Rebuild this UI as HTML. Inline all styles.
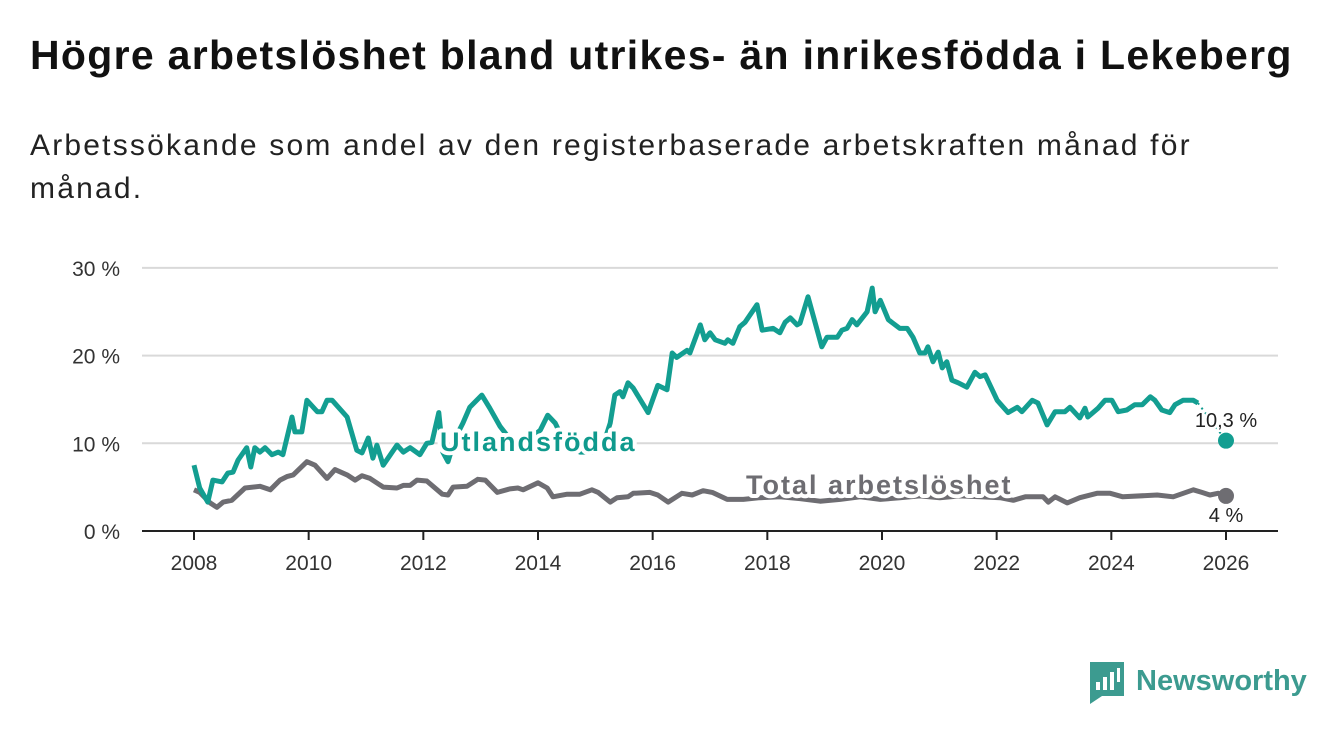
<!DOCTYPE html>
<html><head><meta charset="utf-8">
<style>
html,body{margin:0;padding:0;background:#fff;width:1340px;height:734px;overflow:hidden;font-family:"Liberation Sans",sans-serif;}
#title{position:absolute;left:30px;top:32px;font-size:41px;font-weight:bold;color:#111;white-space:nowrap;letter-spacing:1.3px}
#sub{position:absolute;left:30px;top:124px;font-size:30px;color:#222;line-height:43px;width:1220px;letter-spacing:2.2px}
svg{position:absolute;left:0;top:0}
</style></head><body>
<div id="title">Högre arbetslöshet bland utrikes- än inrikesfödda i Lekeberg</div>
<div id="sub">Arbetssökande som andel av den registerbaserade arbetskraften månad för månad.</div>
<svg id="chart" width="1340" height="734"></svg>
<script>
const yTicks=[0,10,20,30];
const xTicks=[2008,2010,2012,2014,2016,2018,2020,2022,2024,2026];
const foreignDates=[2008.0,2008.10,2008.24,2008.33,2008.49,2008.59,2008.68,2008.77,2008.92,2008.99,2009.06,2009.15,2009.24,2009.36,2009.47,2009.55,2009.71,2009.76,2009.88,2009.97,2010.15,2010.23,2010.32,2010.41,2010.67,2010.84,2010.93,2011.04,2011.12,2011.19,2011.30,2011.54,2011.65,2011.77,2011.94,2012.06,2012.15,2012.27,2012.34,2012.43,2012.55,2012.69,2012.81,2013.02,2013.16,2013.34,2013.51,2013.69,2013.86,2014.04,2014.17,2014.30,2014.47,2014.73,2014.99,2015.17,2015.26,2015.34,2015.43,2015.48,2015.57,2015.66,2015.92,2016.09,2016.25,2016.34,2016.42,2016.60,2016.65,2016.83,2016.91,2017.00,2017.09,2017.26,2017.31,2017.40,2017.52,2017.61,2017.82,2017.91,2018.10,2018.22,2018.31,2018.40,2018.52,2018.57,2018.71,2018.95,2019.04,2019.22,2019.30,2019.39,2019.48,2019.56,2019.74,2019.83,2019.88,2019.97,2020.11,2020.19,2020.31,2020.44,2020.54,2020.66,2020.75,2020.80,2020.89,2020.98,2021.05,2021.13,2021.22,2021.33,2021.48,2021.62,2021.71,2021.80,2022.01,2022.20,2022.36,2022.44,2022.62,2022.72,2022.88,2023.02,2023.19,2023.28,2023.45,2023.54,2023.59,2023.77,2023.89,2024.01,2024.12,2024.27,2024.41,2024.54,2024.68,2024.76,2024.88,2025.02,2025.11,2025.25,2025.43,2025.51];
const foreignValues=[7.5,4.9,3.3,5.8,5.6,6.6,6.7,8.1,9.5,7.3,9.5,9.0,9.5,8.7,9.0,8.7,13.0,11.3,11.3,14.9,13.6,13.6,14.9,14.9,13.0,9.2,8.9,10.6,8.3,9.8,7.5,9.8,9.0,9.5,8.7,10.0,10.1,13.5,9.0,7.9,10.5,12.3,14.1,15.5,14.0,11.9,10.5,10.0,10.5,11.5,13.2,12.3,10.0,9.0,9.0,10.5,12.3,15.5,15.9,15.3,16.9,16.3,13.5,16.6,16.1,20.3,19.8,20.6,20.3,23.5,21.8,22.6,21.8,21.4,21.8,21.4,23.3,23.8,25.8,22.9,23.1,22.6,23.8,24.3,23.5,23.7,26.7,21.0,22.1,22.1,22.9,23.1,24.1,23.5,25.0,27.7,25.0,26.3,24.1,23.7,23.1,23.1,22.1,20.3,20.3,21.0,19.3,20.4,18.6,19.3,17.2,16.9,16.4,18.1,17.6,17.8,14.9,13.5,14.1,13.6,14.9,14.6,12.1,13.6,13.6,14.1,12.9,14.0,13.0,14.0,14.9,14.9,13.6,13.8,14.4,14.4,15.3,14.9,13.8,13.5,14.4,14.9,14.9,14.6];
const foreignLast=[2026.0,10.3];
const totalDates=[2008.0,2008.10,2008.28,2008.40,2008.51,2008.66,2008.89,2009.15,2009.33,2009.50,2009.62,2009.73,2009.97,2010.11,2010.32,2010.46,2010.67,2010.81,2010.93,2011.07,2011.30,2011.54,2011.65,2011.77,2011.89,2012.06,2012.33,2012.43,2012.52,2012.76,2012.95,2013.08,2013.29,2013.51,2013.65,2013.74,2014.00,2014.16,2014.26,2014.51,2014.73,2014.94,2015.05,2015.26,2015.38,2015.57,2015.66,2015.95,2016.09,2016.27,2016.51,2016.69,2016.88,2017.04,2017.30,2017.58,2017.87,2018.22,2018.57,2018.92,2019.27,2019.62,2019.97,2020.31,2020.66,2021.01,2021.36,2021.71,2022.06,2022.29,2022.50,2022.81,2022.90,2023.02,2023.23,2023.45,2023.75,2023.98,2024.20,2024.80,2025.08,2025.43,2025.58,2025.72,2025.86,2026.0];
const totalValues=[4.7,4.4,3.2,2.7,3.3,3.5,4.9,5.1,4.7,5.8,6.2,6.4,7.9,7.5,6.0,7.0,6.4,5.8,6.3,6.0,5.0,4.9,5.2,5.2,5.8,5.7,4.2,4.1,5.0,5.1,5.9,5.8,4.4,4.8,4.9,4.7,5.5,4.9,3.9,4.2,4.2,4.7,4.4,3.3,3.8,3.9,4.3,4.4,4.1,3.3,4.3,4.1,4.6,4.4,3.6,3.6,3.8,3.9,3.7,3.4,3.6,3.9,3.6,3.8,4.0,3.8,4.0,3.9,3.8,3.5,3.9,3.9,3.3,3.9,3.2,3.8,4.3,4.3,3.9,4.1,3.9,4.7,4.4,4.1,4.3,4.0];

const svg=document.getElementById('chart');
const NS='http://www.w3.org/2000/svg';
const X0=142,X1=1278;
function xs(t){return 194+(t-2008)*57.333;}
function ys(v){return 531-v*8.77;}
function mk(tag,attrs){const e=document.createElementNS(NS,tag);for(const k in attrs)e.setAttribute(k,attrs[k]);svg.appendChild(e);return e;}
const F='"Liberation Sans",sans-serif';
yTicks.forEach(v=>{
  if(v>0){const g=mk('line',{x1:X0,x2:X1,y1:ys(v),y2:ys(v),stroke:'#d9d9d9','stroke-width':2});
  
  }
  const t=mk('text',{x:120,y:ys(v)+8,'text-anchor':'end','font-size':21,fill:'#333','font-family':F});
  t.textContent=v+' %';
  
  
});
const ax=mk('line',{x1:X0,x2:X1,y1:531,y2:531,stroke:'#222','stroke-width':2});


xTicks.forEach(yr=>{
  const tk=mk('line',{x1:xs(yr),x2:xs(yr),y1:531,y2:540,stroke:'#222','stroke-width':2});
  
  
  const t=mk('text',{x:xs(yr),y:570,'text-anchor':'middle','font-size':21,fill:'#333','font-family':F});
  t.textContent=yr;
  
  
});
function path(d,v){return d.map((t,i)=>(i?'L':'M')+xs(t).toFixed(1)+','+ys(v[i]).toFixed(1)).join(' ');}
const gl=mk('path',{d:path(totalDates,totalValues),fill:'none',stroke:'#6e6d72','stroke-width':5,'stroke-linejoin':'round'});


const fl=mk('path',{d:path(foreignDates,foreignValues),fill:'none',stroke:'#139e91','stroke-width':5,'stroke-linejoin':'round'});


const li=foreignDates.length-1;
const fd=mk('line',{x1:xs(foreignDates[li]),y1:ys(foreignValues[li]),x2:xs(foreignLast[0]),y2:ys(foreignLast[1]),stroke:'#139e91','stroke-width':2,'stroke-dasharray':'2,4'});


const c1=mk('circle',{cx:xs(foreignLast[0]),cy:ys(foreignLast[1]),r:8,fill:'#139e91'});


const tl=totalDates.length-1;
const c2=mk('circle',{cx:xs(totalDates[tl]),cy:ys(totalValues[tl]),r:8,fill:'#6e6d72'});


function lab(txt,x,y,size,fill,bold,anchor,name,ls){
  const t=mk('text',{x:x,y:y,'font-size':size,fill:fill,'font-weight':bold?'bold':'normal','text-anchor':anchor,'font-family':F,stroke:'#fff','stroke-width':bold?8:5,'paint-order':'stroke','stroke-linejoin':'round','letter-spacing':ls||0});
  t.textContent=txt;
  
  
}
lab('Utlandsfödda',440,451,27,'#0f9a8d',true,'start','foreign-born-label',2);
lab('Total arbetslöshet',746,494,27,'#6e6d72',true,'start','total-label',2);
lab('10,3 %',1226,427,20,'#222',false,'middle','foreign-born-end-value',0);
lab('4 %',1226,522,20,'#222',false,'middle','total-end-value',0);
const lg=mk('g',{});


lg.innerHTML='<path d="M1090,662 h34 v34 h-22 l-12,8 z" fill="#3c9b90"/><rect x="1096" y="682" width="4" height="8" fill="#fff"/><rect x="1103" y="677" width="4" height="13" fill="#fff"/><rect x="1110" y="672" width="4" height="18" fill="#fff"/><rect x="1117" y="668" width="3" height="14" fill="#fff"/><text x="1136" y="690" font-size="29" font-weight="bold" fill="#3c9b90" font-family=\'"Liberation Sans",sans-serif\'>Newsworthy</text>';
</script>
</body></html>
